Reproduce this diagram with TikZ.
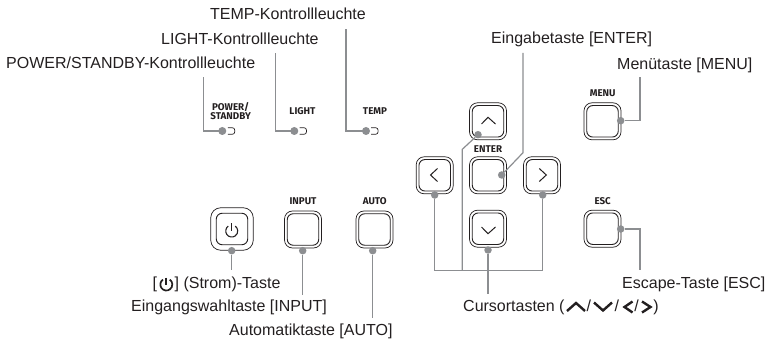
\documentclass[tikz,border=0pt]{standalone}
\usepackage{fontspec}
\setmainfont{Liberation Sans}
\newfontfamily\capfont{Fira Sans}
\definecolor{lead}{HTML}{8C8E91}
\definecolor{ink}{HTML}{231F20}
\tikzset{
 x=1pt,y=-1pt,
 leadline/.style={draw=lead,line width=1.2pt},
 leaddot/.style={fill=lead,draw=none,circle,minimum size=7.5pt,inner sep=0pt},
 lbl/.style={font=\fontsize{16}{18}\selectfont,text=ink,inner sep=0pt,anchor=base west},
 capt/.style={font=\capfont\bfseries\fontsize{9.8}{10}\selectfont,text=ink,inner sep=0pt,align=center},
 outerkey/.style={draw=ink,line width=.7pt,rounded corners=8pt,minimum size=37pt,inner sep=0,fill=white},
 innerkey/.style={draw=ink,line width=.9pt,rounded corners=6pt,minimum size=31.5pt,inner sep=0},
 glyph/.style={draw=ink,line width=1pt},
 boldglyph/.style={draw=ink,line width=2.4pt},
}
\newcommand{\keybox}[2]{%
 \node[outerkey] (#1) at (#2) {};
 \node[innerkey] (#1i) at (#2) {};
}
\begin{document}
\begin{tikzpicture}
\useasboundingbox (0,0) rectangle (765,339);
% labels
\node[lbl] (t1) at (6,69) {POWER/STANDBY-Kontrollleuchte};
\node[lbl] (t2) at (161,45) {LIGHT-Kontrollleuchte};
\node[lbl] (t3) at (210,20) {TEMP-Kontrollleuchte};
\node[lbl] (t4) at (491,44) {Eingabetaste [ENTER]};
\node[lbl] (t5) at (617,70) {Menütaste [MENU]};
\node[lbl] (t6) at (463,311.7) {Cursortasten (\hspace{22pt}/\hspace{23.5pt}/\hspace{15.5pt}/\hspace{14.5pt})};
\node[lbl] (t7) at (622,288) {Escape-Taste [ESC]};
\node[lbl] (t8) at (152.5,288.5) {[\hspace{17.5pt}] (Strom)-Taste};
\node[lbl] (t9) at (131,311.5) {Eingangswahltaste [INPUT]};
\node[lbl] (t10) at (229,335) {Automatiktaste [AUTO]};
% captions
\node[capt] (c1) at (230.7,111) {POWER/\\[-.5pt]STANDBY};
\node[capt] (c2) at (302.5,111) {LIGHT};
\node[capt] (c3) at (375,111) {TEMP};
\node[capt] (c4) at (303,200.7) {INPUT};
\node[capt] (c5) at (374.7,200.7) {AUTO};
\node[capt] (c6) at (488,149.3) {ENTER};
\node[capt] (c7) at (602.7,93.3) {MENU};
\node[capt] (c8) at (602.7,201) {ESC};
% keys
\node[outerkey,minimum size=42.5pt,rounded corners=10pt] (kpow) at (232,229) {};
\node[innerkey] (kpowi) at (232,229) {};
\keybox{kinp}{303,229.5}
\keybox{kaut}{374.5,229.5}
\keybox{kup}{488,121.3}
\keybox{kent}{488,175.3}
\keybox{kleft}{434.7,175.3}
\keybox{kright}{542,175.3}
\keybox{kdown}{488,228.7}
\keybox{kmen}{602.5,121.3}
\keybox{kesc}{602.5,228.7}
% glyphs
\coordinate (ua) at (481.5,124); \coordinate (ub) at (488,117.3); \coordinate (uc) at (495.5,124);
\draw[glyph] (ua) -- (ub) -- (uc);
\coordinate (da) at (481.5,227); \coordinate (db) at (488,233.7); \coordinate (dc) at (495.5,227);
\draw[glyph] (da) -- (db) -- (dc);
\coordinate (la) at (437.5,168.5); \coordinate (lb) at (430.5,175); \coordinate (lc) at (437.5,181.5);
\draw[glyph] (la) -- (lb) -- (lc);
\coordinate (ra) at (539.3,168.5); \coordinate (rb) at (546.3,175); \coordinate (rc) at (539.3,181.5);
\draw[glyph] (ra) -- (rb) -- (rc);
% power glyph
\coordinate (ptop) at (231.7,223);
\coordinate (pbot) at (231.7,231);
\draw[draw=ink,line width=1.1pt] (228.3,226.1) arc[start angle=125,end angle=415,radius=6pt];
\draw[draw=ink,line width=1.1pt] (ptop) -- (pbot);
% LEDs
\coordinate (led1) at (222.3,131); \coordinate (led2) at (294.3,131); \coordinate (led3) at (366,131);
\foreach \x in {231.3,303,374.6}{
 \draw[draw=ink,line width=.7pt,rounded corners=2.5pt] (\x-3.5,127.7) -- (\x+3.5,127.7) -- (\x+3.5,134.3) -- (\x-3.5,134.3);
}
% leader bends / free ends
\coordinate (e1) at (203.7,77); \coordinate (b1) at (203.7,131);
\coordinate (e2) at (275.7,53); \coordinate (b2) at (275.7,131);
\coordinate (e3) at (346,29); \coordinate (b3) at (346,131);
\draw[leadline] (led1) -- (b1) -- (e1);
\draw[leadline] (led2) -- (b2) -- (e2);
\draw[leadline] (led3) -- (b3) -- (e3);
\node[leaddot,minimum size=8pt] (d1) at (led1) {};
\node[leaddot,minimum size=8pt] (d2) at (led2) {};
\node[leaddot,minimum size=8pt] (d3) at (led3) {};
% lower left leaders
\node[leaddot] (dp) at (231.7,250.7) {};
\node[leaddot] (di) at (302.7,250.7) {};
\node[leaddot] (da) at (372.7,250.7) {};
\coordinate (ep) at (231.7,270);
\coordinate (ei) at (302.7,295);
\coordinate (ea) at (372.7,318);
\draw[leadline] (dp) -- (ep);
\draw[leadline] (di) -- (ei);
\draw[leadline] (da) -- (ea);
% enter
\node[leaddot] (den) at (501.7,175) {};
\coordinate (enb) at (523,152.7); \coordinate (ene) at (523,53);
\draw[leadline] (den) -- (enb) -- (ene);
% menu
\node[leaddot] (dm) at (620.7,120.7) {};
\coordinate (mb) at (640,120.7); \coordinate (me) at (640,76.7);
\draw[leadline] (dm) -- (mb) -- (me);
% esc
\node[leaddot] (de) at (620.7,229) {};
\coordinate (eb) at (640,229); \coordinate (ee) at (640,270);
\draw[leadline] (de) -- (eb) -- (ee);
% cursor
\node[leaddot] (dl) at (434.7,195) {};
\node[leaddot] (dr) at (542.7,195) {};
\node[leaddot] (du) at (478,134.7) {};
\node[leaddot] (dd) at (488,250) {};
\coordinate (ybl) at (434.7,270.7); \coordinate (ybr) at (542.7,270.7);
\coordinate (ub1) at (462.3,149.3); \coordinate (ub2) at (462.3,270.7);
\coordinate (cu) at (488,294);
\draw[leadline] (dl) -- (ybl) -- (ybr) -- (dr);
\draw[leadline] (du) -- (ub1) -- (ub2);
\draw[leadline] (dd) -- (cu);
% bold glyphs in text
\draw[boldglyph] (567,311) -- (576,303) -- (585,311);
\draw[boldglyph] (594,302.5) -- (603,310.5) -- (612,302.5);
\draw[boldglyph] (632.5,301.5) -- (624.5,307) -- (632.5,312.5);
\draw[boldglyph] (642,301.5) -- (650.5,307) -- (642,312.5);
\draw[draw=ink,line width=1.7pt] (162.9,279.6) arc[start angle=125,end angle=415,radius=6pt];
\draw[draw=ink,line width=1.7pt] (166.3,277.5) -- (166.3,285);
\end{tikzpicture}
\end{document}
